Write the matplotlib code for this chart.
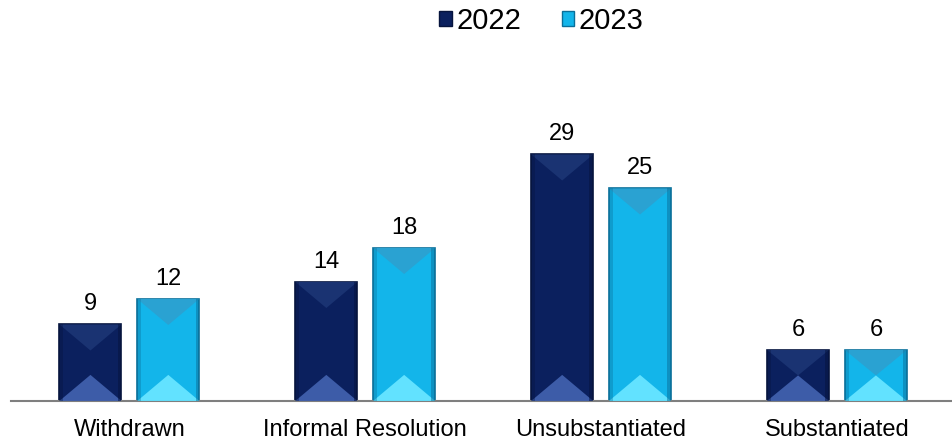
import matplotlib.pyplot as plt
from matplotlib.patches import Polygon, Rectangle
import numpy as np

plt.rcParams['font.family'] = ['Liberation Sans', 'DejaVu Sans']

# Categories and values
categories = ['Withdrawn', 'Informal Resolution', 'Unsubstantiated', 'Substantiated']
values_2022 = [9, 14, 29, 6]
values_2023 = [12, 18, 25, 6]
series_names = ['2022', '2023']

# colours: base, top facet, bottom facet, edge
dark = ['#0b205e', '#1a3372', '#3d5ca8', '#06143d']
cyan = ['#13b5ea', '#2aa2d2', '#62e2ff', '#0a6f99']


def bevel_bar(ax, x, h, w, cols, px_x, px_y):
    base, top, bot, edge = cols
    ax.bar(x, h, w, color=base, edgecolor=edge, linewidth=1.2, zorder=2)
    if h <= 0:
        return
    x0, x1 = x - w / 2, x + w / 2
    # bevel depth in pixels, converted to data units
    d_px = min(0.42 * w * px_x, h * px_y / 2)
    d = d_px / px_y
    ax.add_patch(Polygon([(x0, h), (x1, h), (x, h - d)], closed=True,
                         facecolor=top, edgecolor='none', zorder=3))
    ax.add_patch(Polygon([(x0, 0), (x1, 0), (x, d)], closed=True,
                         facecolor=bot, edgecolor='none', zorder=3))
    # darker side strips
    s = 0.06 * w
    ax.add_patch(Rectangle((x0, 0), s, h, facecolor=edge, alpha=0.35,
                           edgecolor='none', zorder=3))
    ax.add_patch(Rectangle((x1 - s, 0), s, h, facecolor=edge, alpha=0.5,
                           edgecolor='none', zorder=3))


def main():
    fig = plt.figure(figsize=(9.53, 4.44), dpi=100)
    ax = fig.add_axes([0.012, 0.097, 0.99, 0.67])

    xs = np.arange(len(categories))
    width = 0.263
    offset = 0.165
    ax.set_xlim(-0.5, 3.5)
    ax.set_ylim(0, 35)

    bb = ax.get_window_extent()
    px_x = bb.width / 4.0
    px_y = bb.height / 35.0

    for i, x in enumerate(xs):
        for v, dx, cols in [(values_2022[i], -offset, dark),
                            (values_2023[i], offset, cyan)]:
            bevel_bar(ax, x + dx, v, width, cols, px_x, px_y)
            ax.text(x + dx, v + 1.1, str(v), ha='center', va='bottom',
                    fontsize=17, color='black')

    ax.set_xticks(xs)
    ax.set_xticklabels(categories, fontsize=17)
    ax.tick_params(axis='x', length=0, pad=13)
    ax.set_yticks([])
    for s in ['top', 'right', 'left']:
        ax.spines[s].set_visible(False)
    ax.spines['bottom'].set_color('#7f7f7f')
    ax.spines['bottom'].set_linewidth(1.5)

    handles = [Rectangle((0, 0), 1, 1, facecolor=dark[0], edgecolor=dark[3]),
               Rectangle((0, 0), 1, 1, facecolor=cyan[0], edgecolor=cyan[3])]
    fig.legend(handles, series_names, loc='upper center',
               bbox_to_anchor=(0.568, 1.043), ncol=2, frameon=False,
               fontsize=21, handlelength=0.42, handleheight=0.42,
               handletextpad=0.15, columnspacing=1.4)

    fig.savefig('out.png', dpi=100)


main()
